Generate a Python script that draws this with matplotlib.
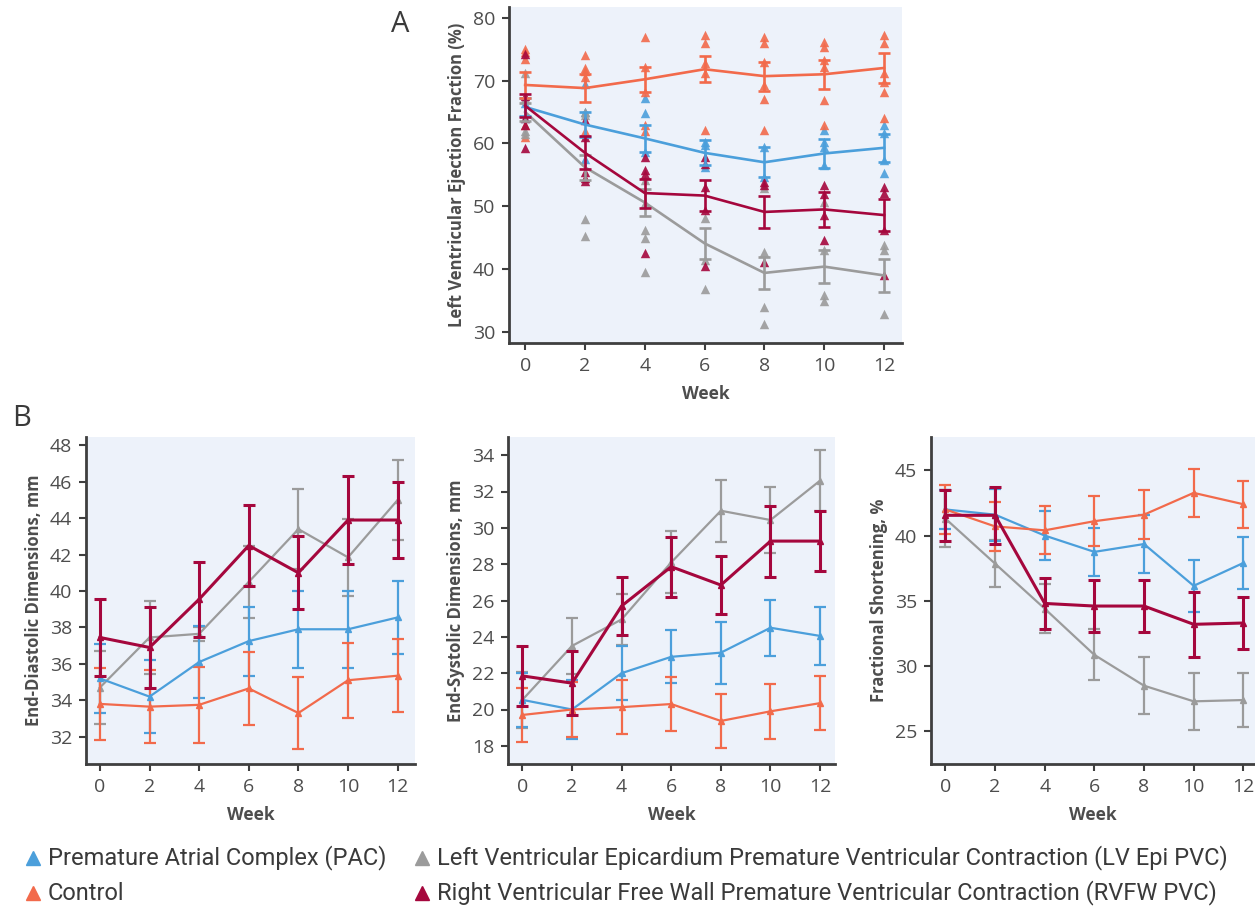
import matplotlib
matplotlib.use("Agg")
import matplotlib.pyplot as plt
from matplotlib.lines import Line2D

plt.rcParams['font.family'] = ['Open Sans', 'DejaVu Sans']

weeks = [0, 2, 4, 6, 8, 10, 12]
groups = ["Premature Atrial Complex (PAC)", "Control",
          "Left Ventricular Epicardium Premature Ventricular Contraction (LV Epi PVC)",
          "Right Ventricular Free Wall Premature Ventricular Contraction (RVFW PVC)"]
colors = ["#4B9FDB", "#F26A4B", "#9B9B9B", "#A5073D"]

# Panel A: LVEF means and SE
lvef_pac = [65.8, 63.0, 60.8, 58.5, 57.0, 58.4, 59.3]
lvef_pac_se = [1.5, 2.0, 2.2, 2.0, 2.4, 2.3, 2.2]
lvef_ctrl = [69.3, 68.8, 70.2, 71.8, 70.7, 71.0, 72.0]
lvef_ctrl_se = [2.0, 2.2, 2.0, 2.1, 2.3, 2.3, 2.4]
lvef_lv = [65.0, 56.2, 50.6, 44.1, 39.4, 40.4, 39.0]
lvef_lv_se = [1.5, 2.0, 2.2, 2.5, 2.5, 2.6, 2.6]
lvef_rv = [66.0, 58.5, 52.1, 51.7, 49.1, 49.5, 48.6]
lvef_rv_se = [1.8, 2.6, 2.3, 2.5, 2.5, 2.8, 2.6]

# Panel A: individual animals
pts_pac = [[66.5, 64.0], [69.5, 65.0, 57.5], [67.2, 64.8, 58.7], [60.2, 59.7, 56.2],
           [59.5, 54.7], [62.1, 60.2, 59.5, 56.5], [62.9, 61.6, 57.4, 55.3]]
pts_ctrl = [[75.0, 74.5, 73.5, 63.0, 61.0], [74.0, 72.0, 71.5, 70.5, 62.0],
            [77.0, 72.2, 68.2, 63.0, 62.0], [77.2, 76.0, 72.8, 71.2, 62.1],
            [77.0, 76.0, 73.0, 69.3, 67.0, 62.1], [76.1, 75.3, 73.2, 72.2, 66.9, 62.9],
            [77.2, 76.0, 71.2, 69.8, 68.2, 64.0]]
pts_lv = [[71.2, 67.0, 62.0, 61.5], [65.0, 64.5, 48.0, 45.2], [54.2, 50.5, 46.3, 45.0, 39.5],
          [48.1, 41.5, 36.9], [52.9, 42.8, 34.0, 31.2], [50.7, 43.1, 35.9, 34.9],
          [43.9, 43.1, 32.8]]
pts_rv = [[74.2, 67.5, 64.0, 63.0, 59.3], [63.7, 61.0, 55.5, 54.5, 54.0],
          [57.9, 55.7, 55.2, 42.6], [57.8, 56.8, 53.1, 49.4, 40.5],
          [53.9, 53.4, 41.2], [53.4, 52.0, 48.6, 44.6], [53.1, 52.1, 46.2, 39.1]]

# Panel B: End-diastolic dimensions (mm)
edd_pac = [35.2, 34.2, 36.1, 37.25, 37.9, 37.9, 38.55]
edd_pac_se = [1.9, 2.0, 2.0, 1.9, 2.1, 2.1, 2.0]
edd_ctrl = [33.8, 33.65, 33.75, 34.65, 33.3, 35.1, 35.35]
edd_ctrl_se = [2.0, 2.0, 2.1, 2.0, 2.0, 2.05, 2.0]
edd_lv = [34.7, 37.45, 37.65, 40.5, 43.4, 41.85, 45.0]
edd_lv_se = [2.0, 2.0, 0.4, 2.0, 2.2, 2.1, 2.2]
edd_rv = [37.45, 36.9, 39.55, 42.5, 41.0, 43.9, 43.9]
edd_rv_se = [2.1, 2.2, 2.05, 2.2, 2.0, 2.4, 2.1]

# Panel B: End-systolic dimensions (mm)
esd_pac = [20.53, 20.0, 22.0, 22.9, 23.13, 24.5, 24.05]
esd_pac_se = [1.5, 1.6, 1.5, 1.45, 1.7, 1.55, 1.6]
esd_ctrl = [19.7, 20.0, 20.13, 20.3, 19.37, 19.9, 20.35]
esd_ctrl_se = [1.5, 1.5, 1.5, 1.5, 1.5, 1.5, 1.5]
esd_lv = [20.53, 23.5, 24.96, 28.1, 30.94, 30.43, 32.6]
esd_lv_se = [1.55, 1.55, 1.4, 1.7, 1.7, 1.8, 1.7]
esd_rv = [21.85, 21.45, 25.7, 27.86, 26.85, 29.27, 29.27]
esd_rv_se = [1.65, 1.75, 1.6, 1.65, 1.6, 1.95, 1.67]

# Panel B: Fractional shortening (%)
fs_pac = [42.0, 41.6, 40.0, 38.75, 39.35, 36.15, 37.9]
fs_pac_se = [1.5, 2.0, 1.9, 1.85, 2.2, 2.0, 2.0]
fs_ctrl = [42.0, 40.7, 40.4, 41.1, 41.6, 43.27, 42.4]
fs_ctrl_se = [1.85, 1.9, 1.85, 1.9, 1.9, 1.85, 1.8]
fs_lv = [41.3, 37.85, 34.4, 30.86, 28.5, 27.3, 27.4]
fs_lv_se = [2.2, 1.8, 1.9, 1.95, 2.2, 2.2, 2.1]
fs_rv = [41.55, 41.55, 34.8, 34.6, 34.6, 33.2, 33.3]
fs_rv_se = [1.95, 2.2, 1.95, 2.0, 2.0, 2.5, 2.0]

BG = "#EDF2FA"
SPINE = "#3F3F3F"
TXT = "#4D4D4D"

W, H = 1255, 908
fig = plt.figure(figsize=(W / 100, H / 100), dpi=100)


def make_ax(l, r, t, b):
    ax = fig.add_axes([l / W, 1 - b / H, (r - l) / W, (b - t) / H])
    ax.set_facecolor(BG)
    for s in ("top", "right"):
        ax.spines[s].set_visible(False)
    for s in ("left", "bottom"):
        ax.spines[s].set_color(SPINE)
        ax.spines[s].set_linewidth(2.0)
    ax.tick_params(axis="both", colors=SPINE, labelcolor=TXT, labelsize=14,
                   length=5, width=1.5, direction="out", pad=5)
    ax.set_xticks(weeks)
    ax.set_xlabel("Week", fontsize=12.5, fontweight="bold", color=TXT, labelpad=7)
    return ax


def draw_group(ax, means, ses, color, lw, elw, z, marker=True):
    ax.errorbar(weeks, means, yerr=ses, color=color, lw=lw, elinewidth=elw,
                capsize=4, capthick=elw, marker="^" if marker else None,
                markersize=4, zorder=z)


# ---------- Panel A ----------
axA = make_ax(509, 902, 7, 343)
axA.set_xlim(-0.54, 12.6)
axA.set_ylim(28.25, 81.7)
axA.set_yticks([30, 40, 50, 60, 70, 80])
axA.set_ylabel("Left Ventricular Ejection Fraction (%)", fontsize=12,
               fontweight="bold", color=TXT, labelpad=5)
point_sets = [pts_pac, pts_ctrl, pts_lv, pts_rv]
for pts, c in zip(point_sets, colors):
    xs, ys = [], []
    for w, vals in zip(weeks, pts):
        xs += [w] * len(vals)
        ys += vals
    axA.scatter(xs, ys, marker="^", s=46, color=c, alpha=0.9, linewidths=0, zorder=2)
meansA = [(lvef_pac, lvef_pac_se), (lvef_ctrl, lvef_ctrl_se),
          (lvef_lv, lvef_lv_se), (lvef_rv, lvef_rv_se)]
for (m, se), c, zz in zip(meansA, colors, [4, 4, 3, 5]):
    draw_group(axA, m, se, c, 1.9, 1.9, zz, marker=False)

# ---------- Panel B ----------
axB1 = make_ax(86, 415, 437, 764)
axB1.set_xlim(-0.56, 12.7)
axB1.set_ylim(30.5, 48.46)
axB1.set_yticks(range(32, 49, 2))
axB1.set_ylabel("End-Diastolic Dimensions, mm", fontsize=12, fontweight="bold",
                color=TXT, labelpad=5)

axB2 = make_ax(508, 835, 437, 764)
axB2.set_xlim(-0.58, 12.6)
axB2.set_ylim(17.0, 35.0)
axB2.set_yticks(range(18, 35, 2))
axB2.set_ylabel("End-Systolic Dimensions, mm", fontsize=12, fontweight="bold",
                color=TXT, labelpad=5)

axB3 = make_ax(931, 1255, 437, 764)
axB3.set_xlim(-0.58, 12.47)
axB3.set_ylim(22.5, 47.55)
axB3.set_yticks([25, 30, 35, 40, 45])
axB3.set_ylabel("Fractional Shortening, %", fontsize=12, fontweight="bold",
                color=TXT, labelpad=5)

panelB = [
    (axB1, [(edd_pac, edd_pac_se), (edd_ctrl, edd_ctrl_se), (edd_lv, edd_lv_se), (edd_rv, edd_rv_se)]),
    (axB2, [(esd_pac, esd_pac_se), (esd_ctrl, esd_ctrl_se), (esd_lv, esd_lv_se), (esd_rv, esd_rv_se)]),
    (axB3, [(fs_pac, fs_pac_se), (fs_ctrl, fs_ctrl_se), (fs_lv, fs_lv_se), (fs_rv, fs_rv_se)]),
]
for ax, series in panelB:
    for (m, se), c, lw, zz in zip(series, colors, [1.6, 1.6, 1.6, 2.2], [3, 3, 2, 4]):
        draw_group(ax, m, se, c, lw, lw, zz)

# Panel letters
fig.text(400 / W, 1 - 25 / H, "A", fontsize=21, color="#3A3A3A", ha="center", va="center")
fig.text(22 / W, 1 - 418 / H, "B", fontsize=21, color="#3A3A3A", ha="center", va="center")

# Legend
leg_pos = [(33, 858), (33, 893), (422, 858), (422, 893)]
for (x, y), c, label in zip(leg_pos, colors, groups):
    fig.add_artist(Line2D([x / W], [1 - y / H], marker="^", color=c, markersize=10,
                          linestyle="none"))
    fig.text((x + 15) / W, 1 - y / H, label, fontsize=17, color="#3A3A3A",
             ha="left", va="center", family=["Roboto", "DejaVu Sans"])

fig.savefig("out.png", dpi=100)
